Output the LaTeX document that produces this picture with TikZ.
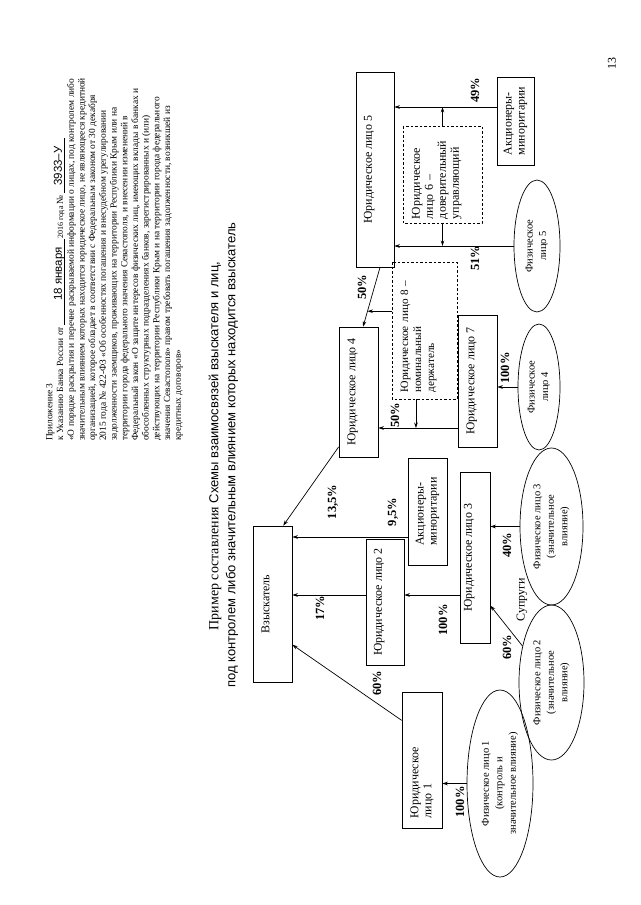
\documentclass[tikz,border=0pt]{standalone}
\usepackage{fontspec}
\setmainfont{Liberation Serif}
\newfontfamily\sansf{Liberation Sans}
\usetikzlibrary{arrows.meta,shapes.geometric,calc}
\newcommand{\fld}[3]{\rlap{\rule[-1.2pt]{#1}{0.4pt}}\makebox[#1][l]{\hspace{#2}\raisebox{1.2pt}[0pt][0pt]{\sansf\fontsize{11.5}{11.5}\selectfont #3}}}
\begin{document}
\begin{tikzpicture}[x=1pt,y=-1pt,
  every node/.style={rotate=90},
  box/.style={draw, line width=0.7pt, inner sep=2pt, font=\fontsize{12}{13}\selectfont},
  topbox/.style={box, align=center},
  dbox/.style={box, dash pattern=on 2.5pt off 2pt},
  ell/.style={draw, ellipse, line width=0.7pt, inner sep=0pt, align=center, font=\fontsize{10.5}{13.5}\selectfont},
  pct/.style={font=\bfseries\fontsize{12.5}{12.5}\selectfont, inner sep=0pt},
  arr/.style={line width=0.7pt, -{Stealth[length=5.5pt,width=3.6pt]}}
]
\useasboundingbox (0,0) rectangle (640,905);
\fill[white] (0,0) rectangle (640,905);

% header
\node[anchor=north west, inner sep=0pt, align=left, font=\fontsize{9.4}{10.7}\selectfont] (hdr) at (46,441) {Приложение 3\\
к Указанию Банка России от \fld{86pt}{24pt}{18 января}{\fontsize{8}{8}\selectfont 2016 года} № \fld{55pt}{7pt}{3933–У}\\
«О порядке раскрытия и перечне раскрываемой информации о лицах, под контролем либо\\
значительным влиянием которых находится юридическое лицо, не являющееся кредитной\\
организацией, которое обладает в соответствии с Федеральным законом от 30 декабря\\
2015 года № 422-ФЗ «Об особенностях погашения и внесудебном урегулировании\\
задолженности заемщиков, проживающих на территории Республики Крым или на\\
территории города федерального значения Севастополя, и внесении изменений в\\
Федеральный закон «О защите интересов физических лиц, имеющих вклады в банках и\\
обособленных структурных подразделениях банков, зарегистрированных и (или)\\
действующих на территории Республики Крым и на территории города федерального\\
значения Севастополя» правом требовать погашения задолженности, возникшей из\\
кредитных договоров»};

% title
\node[inner sep=0pt, font=\fontsize{14}{14}\selectfont] (t1) at (215,446) {Пример составления {\sansf\fontsize{13}{13}\selectfont Схемы взаимосвязей взыскателя и лиц,}};
\node[inner sep=0pt, font=\sansf\fontsize{13}{13}\selectfont] (t2) at (232,455) {под контролем либо значительным влиянием которых находится взыскатель};

\node[inner sep=0pt, font=\fontsize{12}{12}\selectfont] (pg) at (612,63) {13};

% boxes
\node[topbox, minimum width=156pt, minimum height=39pt] (vz) at (272.5,604) {Взыскатель\\[1pt]\mbox{}};
\node[topbox, minimum width=126pt, minimum height=38pt] (yu2) at (385,602) {Юридическое лицо 2\\[1pt]\mbox{}};
\node[topbox, minimum width=171pt, minimum height=30pt, inner sep=1pt] (yu3) at (475,557.5) {Юридическое лицо 3\\[1pt]\mbox{}};
\node[box, align=left, minimum width=107pt, minimum height=39pt] (ak1) at (427.5,511.5) {Акционеры-\\миноритарии};
\node[topbox, minimum width=130pt, minimum height=39pt] (yu4) at (358.5,392) {Юридическое лицо 4\\[1pt]\mbox{}};
\node[topbox, minimum width=132pt, minimum height=39pt] (yu7) at (477.5,381) {Юридическое лицо 7\\[1pt]\mbox{}};
\node[dbox, align=left, text width=124pt, minimum width=137pt, minimum height=65pt, font=\fontsize{11.2}{13}\selectfont] (yu8) at (424.5,330.5) {Юридическое лицо 8~–\\номинальный\\держатель\\[1pt]\mbox{}};
\node[topbox, minimum width=195pt, minimum height=38pt] (yu5) at (375,169.5) {Юридическое лицо 5\\[1pt]\mbox{}};
\node[dbox, align=left, text width=89pt, minimum width=97pt, minimum height=79pt] (yu6) at (442.5,174.5) {Юридическое\\лицо 6~–\\доверительный\\управляющий\\[1pt]\mbox{}};
\node[box, align=left, minimum width=88pt, minimum height=37pt] (ak2) at (515.5,121) {Акционеры-\\миноритарии};
\node[box, align=left, text width=116pt, minimum width=136pt, minimum height=40pt] (yu1) at (422,760) {Юридическое\\лицо 1};

% ellipses
\node[ell, minimum width=132pt, minimum height=46pt] (f5) at (537,246) {Физическое\\лицо 5};
\node[ell, minimum width=126pt, minimum height=42pt] (f4) at (539,387) {Физическое\\лицо 4};
\node[ell, minimum width=157pt, minimum height=63pt] (f3) at (551.5,526.5) {Физическое лицо 3\\(значительное\\влияние)};
\node[ell, minimum width=155pt, minimum height=65pt] (f2) at (551.5,682.5) {Физическое лицо 2\\(значительное\\влияние)};
\node[ell, minimum width=187pt, minimum height=66pt] (f1) at (500,783.5) {Физическое лицо 1\\(контроль и\\значительное влияние)};

% levels
\coordinate (L1) at (0,537);
\coordinate (L2) at (0,595);
\coordinate (L3) at (0,107);
\coordinate (L4) at (0,428);

% connectors
\draw[arr] (ak1.north |- L1) -- (vz.south |- L1);
\draw[arr] (yu2.north |- L2) -- (vz.south |- L2);
\draw[arr] (yu3.north |- L2) -- (yu2.south |- L2);
\draw[arr] (f3.north) -- (f3.north -| yu3.south);
\draw[arr] (f1.north) -- (f1.north -| yu1.south);
\draw[arr] (f4.north) -- (f4.north -| yu7.south);
\draw[arr] (f5.north) -- (f5.north -| yu5.south);
\draw[arr] (ak2.north |- L3) -- (yu5.south |- L3);
\draw[arr] (yu7.north |- L4) -- (yu4.south |- L4);
\coordinate (d8) at ($(yu8.north west)!0.37!(yu8.south west)$);
\draw[arr] (d8) -- (d8 |- L4);
\draw[arr] (yu6.east) -- (yu6.east |- L3);
\draw[arr] (yu6.west) -- (yu6.west |- f5.north);
\coordinate (s54) at ($(yu5.north west)!0.63!(yu5.south west)$);
\coordinate (e54) at ($(yu4.north east)!0.615!(yu4.south east)$);
\draw[arr] (s54) -- (e54);
\coordinate (m8) at ($(s54)!0.74!(e54)$);
\draw[arr] (yu8.north |- m8) -- (m8);
\draw[arr] ($(yu4.north west)!0.08!(yu4.north east)$) -- ($(vz.north east)!0.77!(vz.south east)$);
\draw[arr] ($(yu1.north east)!0.21!(yu1.north west)$) -- ($(vz.south east)!0.76!(vz.south west)$);
\draw[arr] (f2) -- ($(yu3.south east)!0.78!(yu3.south west)$);

% labels
\node[pct] (p1) at (333,502) {13,5\%};
\node[pct] (p2) at (393,512) {9,5\%};
\node[pct] (p3) at (320,608) {17\%};
\node[pct] (p4) at (443,620) {100\%};
\node[pct] (p5) at (377,683) {60\%};
\node[pct] (p6) at (460,802) {100\%};
\node[pct] (p7) at (507,647) {60\%};
\node[pct] (p8) at (507,545) {40\%};
\node[pct] (p9) at (505,368) {100\%};
\node[pct] (p10) at (395,415) {50\%};
\node[pct] (p11) at (362,287) {50\%};
\node[pct] (p12) at (475,258) {51\%};
\node[pct] (p13) at (475,90) {49\%};
\node[inner sep=0pt, font=\fontsize{12}{12}\selectfont] (sp) at (522,600) {Супруги};
\end{tikzpicture}
\end{document}
